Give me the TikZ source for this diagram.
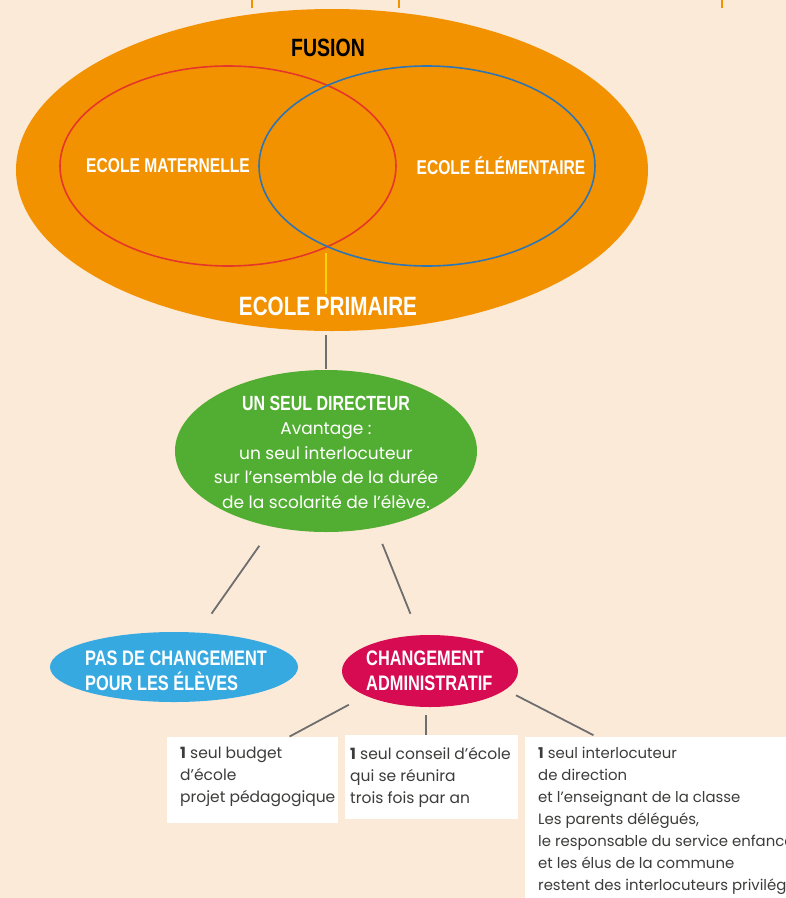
\documentclass[tikz,border=0pt]{standalone}
\usepackage{fontspec}
\setmainfont{Poppins}
\newfontfamily\cond{Liberation Sans}[FakeStretch=0.78]
\usetikzlibrary{shapes.geometric,calc}
\definecolor{bgc}{RGB}{252,234,216}
\definecolor{orangec}{RGB}{243,146,0}
\definecolor{redc}{RGB}{228,54,42}
\definecolor{bluec}{RGB}{46,117,182}
\definecolor{yellowc}{RGB}{255,212,0}
\definecolor{grayc}{RGB}{110,110,110}
\definecolor{greenc}{RGB}{82,174,50}
\definecolor{skyc}{RGB}{54,169,225}
\definecolor{crimc}{RGB}{214,11,81}
\definecolor{txtc}{RGB}{60,60,59}
\tikzset{
  conn/.style={draw=grayc, line width=1.8pt},
  blob/.style={ellipse, inner sep=0pt},
  ring/.style={ellipse, inner sep=0pt, fill=none, line width=1.6pt},
  captxt/.style={text=white, inner sep=0pt, font=\cond\bfseries\fontsize{20}{25}\selectfont},
  wbox/.style={rectangle, fill=white, inner sep=0pt, anchor=north west},
  boxtxt/.style={anchor=north west, inner sep=0pt, align=left, text=txtc, font=\fontsize{15.5}{22}\selectfont},
  tick/.style={draw=orangec, line width=2pt}
}
\begin{document}
\begin{tikzpicture}[x=1pt,y=-1pt]
\useasboundingbox (0,0) rectangle (786,898);
\fill[bgc] (0,0) rectangle (786,898);
\clip (0,0) rectangle (786,898);

% cut-off connectors at the top
\coordinate (ta1) at (252,-2); \coordinate (tb1) at (252,8);
\coordinate (ta2) at (399,-2); \coordinate (tb2) at (399,8);
\coordinate (ta3) at (722,-2); \coordinate (tb3) at (722,8);
\draw[tick] (ta1) -- (tb1);
\draw[tick] (ta2) -- (tb2);
\draw[tick] (ta3) -- (tb3);

% fusion ellipse and Venn
\node[blob, fill=orangec, minimum width=632pt, minimum height=322pt] (fusion) at (332,170) {};
\node[ring, draw=redc, minimum width=336pt, minimum height=200pt] (mat) at (228,166) {};
\node[ring, draw=bluec, minimum width=336pt, minimum height=200pt] (elem) at (427,166) {};
\node[inner sep=0pt, text=black, font=\cond\bfseries\fontsize{25}{28}\selectfont] (fusiontxt) at (328,48) {FUSION};
\node[captxt] (mattxt) at (168,166) {ECOLE MATERNELLE};
\node[captxt] (elemtxt) at (501,166) {ECOLE ÉLÉMENTAIRE};
\node[captxt, font=\cond\bfseries\fontsize{26.5}{30}\selectfont] (prim) at (328,306) {ECOLE PRIMAIRE};
\coordinate (ya) at (326,253);
\draw[draw=yellowc, line width=1.8pt, shorten >=2pt] (ya) -- (ya |- prim.north) ;

% director
\node[blob, fill=greenc, minimum width=302pt, minimum height=162pt] (dir) at (326,451) {};
\node[inner sep=0pt, text=white, align=center, font=\fontsize{17}{24.5}\selectfont] (dirtxt) at (326,452)
  {{\cond\bfseries\fontsize{20.5}{24.5}\selectfont UN SEUL DIRECTEUR}\\ Avantage :\\ un seul interlocuteur\\ sur l’ensemble de la durée\\ de la scolarité de l’élève.};
\draw[conn, shorten <=4pt, shorten >=1pt] (dir.north |- fusion.south) -- (dir.north);

% second level
\node[blob, fill=skyc, minimum width=248pt, minimum height=70pt] (pas) at (174,667) {};
\node[captxt, align=left, anchor=west, font=\cond\bfseries\fontsize{21}{25}\selectfont] (pastxt) at (85,671) {PAS DE CHANGEMENT\\POUR LES ÉLÈVES};
\node[blob, fill=crimc, minimum width=176pt, minimum height=72pt] (adm) at (430,671) {};
\node[captxt, align=left, anchor=west, font=\cond\bfseries\fontsize{21}{25}\selectfont] (admtxt) at (366,671) {CHANGEMENT\\ADMINISTRATIF};
\draw[conn, shorten <=23pt, shorten >=23pt] (dir) -- (pas);
\draw[conn, shorten <=17.5pt, shorten >=23pt] (dir.303) -- (adm.107);

% boxes
\node[wbox, minimum width=171pt, minimum height=86pt] (b1) at (167,737) {};
\node[wbox, minimum width=173pt, minimum height=84pt] (b2) at (345,735) {};
\node[wbox, minimum width=280pt, minimum height=170pt] (b3) at (525,737) {};
\node[boxtxt] (t1) at ([xshift=13pt,yshift=-10pt]b1.north west) {\textbf{1} seul budget\\ d’école\\ projet pédagogique};
\node[boxtxt] (t2) at ([xshift=5pt,yshift=-12pt]b2.north west) {\textbf{1} seul conseil d’école\\ qui se réunira\\ trois fois par an};
\node[boxtxt, font=\fontsize{14.9}{22}\selectfont] (t3) at ([xshift=13pt,yshift=-10pt]b3.north west) {\textbf{1} seul interlocuteur\\ de direction\\ et l’enseignant de la classe\\ Les parents délégués,\\ le responsable du service enfance\\ et les élus de la commune\\ restent des interlocuteurs privilégiés};

\draw[conn, shorten <=19pt, shorten >=1pt] (adm.201) -- ($(b1.north west)!0.71!(b1.north east)$);
\draw[conn, shorten <=8pt] ([xshift=-4pt]adm.south) -- ([xshift=-4pt]adm.south |- b2.north);
\draw[conn, shorten <=12pt, shorten >=4pt] (adm.346) -- ($(b3.north west)+(72,0)$);
\end{tikzpicture}
\end{document}
